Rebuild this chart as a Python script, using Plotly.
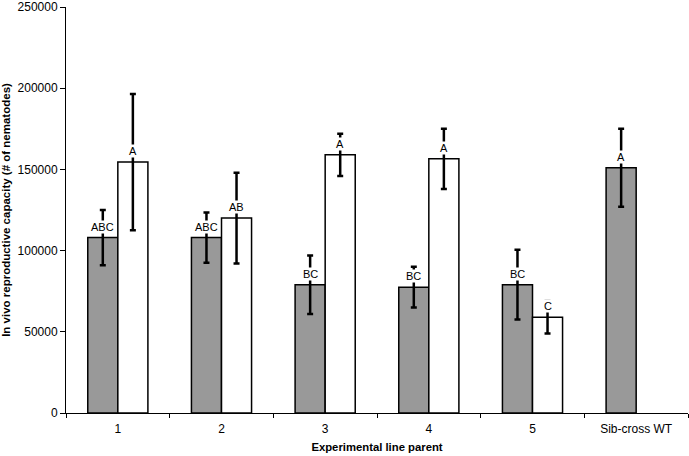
import plotly.graph_objects as go

categories = ["1", "2", "3", "4", "5", "Sib-cross WT"]

grey_values = [108000, 108000, 79000, 77500, 79000, 151000]
grey_errors = [17000, 15500, 18000, 12500, 21500, 24000]
grey_letters = ["ABC", "ABC", "BC", "BC", "BC", "A"]

white_values = [154500, 120000, 159000, 156500, 59000, None]
white_errors = [42000, 28000, 13000, 18500, 10000, None]
white_letters = ["A", "AB", "A", "A", "C", None]

FONT = "Liberation Sans, Arial, sans-serif"

fig = go.Figure()

fig.add_trace(go.Bar(
    x=categories,
    y=grey_values,
    marker=dict(color="#999999", line=dict(color="black", width=1.5)),
    error_y=dict(type="data", array=grey_errors, visible=True,
                 color="black", thickness=2.5, width=3),
    showlegend=False,
))

fig.add_trace(go.Bar(
    x=categories,
    y=white_values,
    marker=dict(color="white", line=dict(color="black", width=1.5)),
    error_y=dict(type="data", array=white_errors, visible=True,
                 color="black", thickness=2.5, width=3),
    showlegend=False,
))

# significance letters sit just above each bar, masking the error bar
# (category axis: use the category index so "1".."5" are not read as numbers)
for i, (val, txt) in enumerate(zip(grey_values, grey_letters)):
    fig.add_annotation(x=i, y=val, text=txt, showarrow=False,
                       xshift=-15, yshift=11, bgcolor="white",
                       borderpad=0, font=dict(size=11, color="black", family=FONT))
for i, (val, txt) in enumerate(zip(white_values, white_letters)):
    if val is None:
        continue
    fig.add_annotation(x=i, y=val, text=txt, showarrow=False,
                       xshift=15, yshift=11, bgcolor="white",
                       borderpad=0, font=dict(size=11, color="black", family=FONT))

fig.update_layout(
    width=689,
    height=456,
    margin=dict(l=66, r=1, t=7, b=43),
    paper_bgcolor="white",
    plot_bgcolor="white",
    barmode="group",
    bargap=0.42,
    bargroupgap=0,
    font=dict(family=FONT, size=12, color="black"),
)

fig.update_xaxes(
    type="category",
    automargin=False,
    showline=True, linecolor="black", linewidth=1,
    ticks="outside", tickson="boundaries", ticklen=4, tickcolor="black",
    ticklabelstandoff=5,
    showgrid=False,
    title=dict(text="<b>Experimental line parent</b>", standoff=7,
               font=dict(size=11.3, family=FONT)),
    tickfont=dict(size=12, family=FONT),
)

fig.update_yaxes(
    range=[0, 250000],
    dtick=50000,
    tickformat="d",
    automargin=False,
    ticklabeloverflow="allow",
    showline=True, linecolor="black", linewidth=1,
    ticks="outside", ticklen=5, tickcolor="black",
    showgrid=False, zeroline=False,
    title=dict(text="<b>In vivo reproductive capacity (# of nematodes)</b>", standoff=5,
               font=dict(size=11.5, family=FONT)),
    tickfont=dict(size=12, family=FONT),
)

fig.write_html("out.html", config={"displayModeBar": False},
               post_script="document.body.style.margin='0';")
